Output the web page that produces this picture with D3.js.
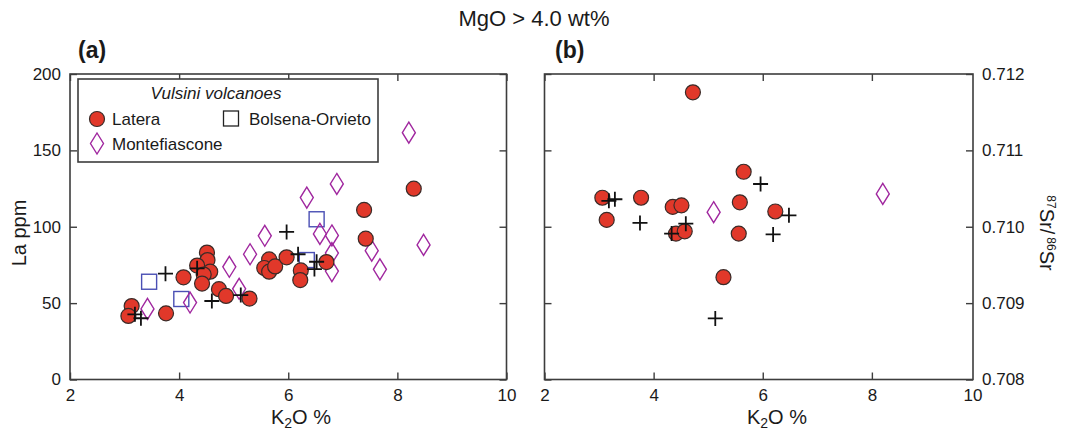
<!DOCTYPE html>
<html>
<head>
<meta charset="utf-8">
<script src="https://cdn.jsdelivr.net/npm/d3@7"></script>
<style>
  html, body { margin: 0; padding: 0; background: #fff; }
  svg { display: block; font-family: "Liberation Sans", Arial, Helvetica, sans-serif; }
</style>
</head>
<body>
<svg id="chart" width="1068" height="433"></svg>
<script>
// ---- data: [K2O wt%, value] ----
// Panel (a): La (ppm) vs K2O
const lateraLa = [
  [3.13, 48.1], [3.07, 41.6], [3.76, 43.3], [4.08, 66.9], [4.51, 83.1], [4.52, 78.2],
  [4.33, 74.6], [4.57, 70.6], [4.45, 68.7], [4.42, 62.8], [4.73, 59.1], [4.86, 54.7],
  [5.29, 53.0], [5.65, 78.6], [5.56, 73.0], [5.65, 70.6], [5.76, 74.0], [5.97, 80.0],
  [6.23, 71.4], [6.22, 65.1], [6.70, 76.9], [7.39, 111.0], [7.42, 92.2], [8.30, 124.9]
];
const bolsenaLa = [[3.45, 64.0], [4.04, 52.7], [6.52, 104.9], [6.34, 78.2]];
const montefiasconeLa = [
  [3.42, 46.2], [4.20, 50.4], [4.92, 73.8], [5.10, 59.4], [5.30, 82.0], [5.57, 94.1],
  [6.34, 119.1], [6.89, 128.0], [6.58, 95.3], [6.80, 94.3], [6.80, 82.8], [6.80, 71.0],
  [8.21, 161.6], [7.53, 84.3], [7.68, 72.1], [8.48, 88.1]
];
const otherLa = [
  [3.19, 42.7], [3.30, 40.1], [3.75, 69.3], [4.33, 72.8], [4.60, 51.4], [5.13, 55.3],
  [5.97, 96.6], [6.18, 82.0], [6.52, 77.1], [6.48, 72.3]
];

// Panel (b): 87Sr/86Sr vs K2O
const lateraSr = [
  [4.72, 0.71176], [5.65, 0.71072], [3.06, 0.71038], [3.77, 0.71038], [4.35, 0.71026],
  [4.51, 0.71028], [3.14, 0.71009], [5.58, 0.71032], [6.23, 0.71020], [4.41, 0.70991],
  [4.57, 0.70994], [5.56, 0.70991], [5.28, 0.70934]
];
const montefiasconeSr = [[5.10, 0.71019], [8.20, 0.71043]];
const otherSr = [
  [3.18, 0.71034], [3.29, 0.71036], [3.75, 0.71005], [4.59, 0.71004], [4.33, 0.70991],
  [5.96, 0.71056], [6.19, 0.70990], [6.48, 0.71015], [5.13, 0.70880]
];

// ---- tick labels ----
const xTicks = [2, 4, 6, 8, 10];
const xTicksB = [2, 4, 6, 8];
const xEndLabelB = "10";
const laTicks = [0, 50, 100, 150, 200];
const srTicks = [0.708, 0.709, 0.710, 0.711, 0.712];
const legendTitle = "Vulsini volcanoes";
const legendNames = ["Latera", "Bolsena-Orvieto", "Montefiascone"];

// ---- styles ----
const C = {
  frame: "#3d3d3d",
  circleFill: "#e1382a",
  circleStroke: "#3a2b28",
  square: "#4a4fb4",
  diamond: "#a0279f",
  cross: "#111111",
  text: "#1a1a1a"
};

const svg = d3.select("#chart");

const panelA = { left: 70, right: 506.5, top: 74, bottom: 379.5 };
const panelB = { left: 544.5, right: 973, top: 74, bottom: 379.5 };

const xA = d3.scaleLinear().domain([2, 10]).range([panelA.left, panelA.right]);
const yA = d3.scaleLinear().domain([0, 200]).range([panelA.bottom, panelA.top]);
// panel (b) keeps the same unit spacing as (a); its frame closes just short of 10
const xB = d3.scaleLinear().domain([2, 10]).range([panelB.left, panelB.left + (panelA.right - panelA.left)]);
const yB = d3.scaleLinear().domain([0.708, 0.712]).range([panelB.bottom, panelB.top]);

const TICK = 7;

function styleAxis(g, showLabels) {
  g.select(".domain").remove();
  g.selectAll(".tick line").attr("stroke", C.frame).attr("stroke-width", 1.4);
  g.selectAll(".tick text")
    .attr("fill", C.text)
    .style("font-size", "17px")
    .style("display", showLabels ? null : "none");
}

function drawFrame(p, xs, xt, ys, yTicks, yFmt, labelsLeft) {
  // bottom axis (labels) + top axis (ticks only), ticks pointing inward
  svg.append("g").attr("transform", `translate(0,${p.bottom})`)
    .call(d3.axisBottom(xs).tickValues(xt).tickSizeInner(-TICK).tickSizeOuter(0)
      .tickPadding(9).tickFormat(d3.format("d")))
    .call(g => styleAxis(g, true));
  svg.append("g").attr("transform", `translate(0,${p.top})`)
    .call(d3.axisTop(xs).tickValues(xt).tickSizeInner(-TICK).tickSizeOuter(0))
    .call(g => styleAxis(g, false));
  // left & right axes
  svg.append("g").attr("transform", `translate(${p.left},0)`)
    .call(d3.axisLeft(ys).tickValues(yTicks).tickSizeInner(-TICK).tickSizeOuter(0)
      .tickPadding(9).tickFormat(yFmt))
    .call(g => styleAxis(g, labelsLeft));
  svg.append("g").attr("transform", `translate(${p.right},0)`)
    .call(d3.axisRight(ys).tickValues(yTicks).tickSizeInner(-TICK).tickSizeOuter(0)
      .tickPadding(9).tickFormat(yFmt))
    .call(g => styleAxis(g, !labelsLeft));
  svg.append("rect")
    .attr("x", p.left).attr("y", p.top)
    .attr("width", p.right - p.left).attr("height", p.bottom - p.top)
    .attr("fill", "none").attr("stroke", C.frame).attr("stroke-width", 1.6);
}

drawFrame(panelA, xA, xTicks, yA, laTicks, d3.format("d"), true);
drawFrame(panelB, xB, xTicksB, yB, srTicks, d3.format(".3f"), false);
// end label of panel (b) x axis, set at the frame corner
svg.append("text").attr("x", panelB.right).attr("y", panelB.bottom + 9)
  .attr("dy", "0.71em").attr("text-anchor", "middle")
  .style("font-size", "17px").attr("fill", C.text).text(xEndLabelB);

// ---- marker helpers ----
const diamondPath = "M0,-10.5L6.5,0L0,10.5L-6.5,0Z";
const crossPath = "M-7.5,0H7.5M0,-7.5V7.5";

function squares(data, xs, ys) {
  svg.append("g").selectAll("rect").data(data).join("rect")
    .attr("x", d => xs(d[0]) - 7.5).attr("y", d => ys(d[1]) - 7.5)
    .attr("width", 15).attr("height", 15)
    .attr("fill", "none").attr("stroke", C.square).attr("stroke-width", 1.4);
}
function diamonds(data, xs, ys) {
  svg.append("g").selectAll("path").data(data).join("path")
    .attr("d", diamondPath)
    .attr("transform", d => `translate(${xs(d[0])},${ys(d[1])})`)
    .attr("fill", "none").attr("stroke", C.diamond).attr("stroke-width", 1.4);
}
function circles(data, xs, ys) {
  svg.append("g").selectAll("circle").data(data).join("circle")
    .attr("cx", d => xs(d[0])).attr("cy", d => ys(d[1])).attr("r", 7.5)
    .attr("fill", C.circleFill).attr("stroke", C.circleStroke).attr("stroke-width", 1.2);
}
function crosses(data, xs, ys) {
  svg.append("g").selectAll("path").data(data).join("path")
    .attr("d", crossPath)
    .attr("transform", d => `translate(${xs(d[0])},${ys(d[1])})`)
    .attr("fill", "none").attr("stroke", C.cross).attr("stroke-width", 1.8);
}

// panel (a)
squares(bolsenaLa, xA, yA);
diamonds(montefiasconeLa, xA, yA);
circles(lateraLa, xA, yA);
crosses(otherLa, xA, yA);

// panel (b)
diamonds(montefiasconeSr, xB, yB);
circles(lateraSr, xB, yB);
crosses(otherSr, xB, yB);

// ---- legend ----
const lg = svg.append("g");
lg.append("rect").attr("x", 78).attr("y", 79).attr("width", 300).attr("height", 83)
  .attr("fill", "#fff").attr("stroke", C.frame).attr("stroke-width", 1.6);
lg.append("text").attr("x", 216).attr("y", 99).attr("text-anchor", "middle")
  .style("font-size", "17px").style("font-style", "italic").attr("fill", C.text)
  .text(legendTitle);
lg.append("circle").attr("cx", 97).attr("cy", 119).attr("r", 7.5)
  .attr("fill", C.circleFill).attr("stroke", C.circleStroke).attr("stroke-width", 1.2);
lg.append("text").attr("x", 112).attr("y", 125).style("font-size", "17px")
  .attr("fill", C.text).text(legendNames[0]);
lg.append("rect").attr("x", 223.5).attr("y", 111).attr("width", 15).attr("height", 15)
  .attr("fill", "none").attr("stroke", "#222").attr("stroke-width", 1.3);
lg.append("text").attr("x", 249).attr("y", 125).style("font-size", "17px")
  .attr("fill", C.text).text(legendNames[1]);
lg.append("path").attr("d", diamondPath).attr("transform", "translate(97,143.5)")
  .attr("fill", "none").attr("stroke", C.diamond).attr("stroke-width", 1.4);
lg.append("text").attr("x", 112).attr("y", 149.5).style("font-size", "17px")
  .attr("fill", C.text).text(legendNames[2]);

// ---- titles and axis titles ----
svg.append("text").attr("x", 534).attr("y", 26).attr("text-anchor", "middle")
  .style("font-size", "22px").attr("fill", C.text).text("MgO > 4.0 wt%");

svg.append("text").attr("x", 78).attr("y", 58)
  .style("font-size", "23px").style("font-weight", "bold").attr("fill", C.text).text("(a)");
svg.append("text").attr("x", 555).attr("y", 58)
  .style("font-size", "23px").style("font-weight", "bold").attr("fill", C.text).text("(b)");

function k2oTitle(cx) {
  const t = svg.append("text").attr("x", cx).attr("y", 424).attr("text-anchor", "middle")
    .style("font-size", "20px").attr("fill", C.text);
  t.append("tspan").text("K");
  t.append("tspan").attr("dy", 4).style("font-size", "14px").text("2");
  t.append("tspan").attr("dy", -4).text("O %");
}
k2oTitle(301);
k2oTitle(777);

svg.append("text").attr("transform", "translate(26,233) rotate(-90)")
  .attr("text-anchor", "middle").style("font-size", "20px").attr("fill", C.text)
  .text("La ppm");

const sr = svg.append("text").attr("transform", "translate(1040,233) rotate(90)")
  .attr("text-anchor", "middle").style("font-size", "20px").attr("fill", C.text);
sr.append("tspan").attr("dy", -7).style("font-size", "12px").text("87");
sr.append("tspan").attr("dy", 7).text("Sr/");
sr.append("tspan").attr("dx", 3).attr("dy", -7).style("font-size", "12px").text("86");
sr.append("tspan").attr("dy", 7).text("Sr");
</script>
</body>
</html>
